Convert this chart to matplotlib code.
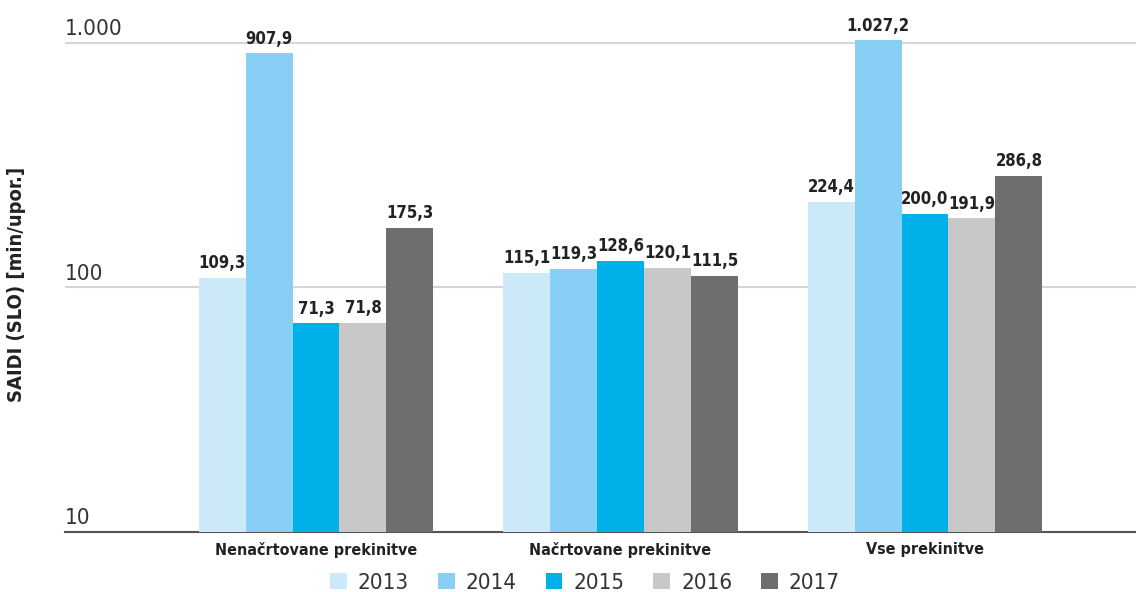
import matplotlib
matplotlib.use("Agg")
import matplotlib.pyplot as plt
from matplotlib import font_manager
from matplotlib.transforms import blended_transform_factory
import numpy as np

# podatki
kategorije = ['Nenačrtovane prekinitve', 'Načrtovane prekinitve', 'Vse prekinitve']
leta = ['2013', '2014', '2015', '2016', '2017']
v2013 = [109.3, 115.1, 224.4]
v2014 = [907.9, 119.3, 1027.2]
v2015 = [71.3, 128.6, 200.0]
v2016 = [71.8, 120.1, 191.9]
v2017 = [175.3, 111.5, 286.8]
barve = ['#cce9f9', '#87cff4', '#00b0e8', '#c8c8c7', '#6e6e6d']
yticks = [10, 100, 1000]
ytick_labels = ['10', '100', '1.000']

# poišči ozko pisavo
ozke = []
for f in font_manager.fontManager.ttflist:
    ime = (f.name + ' ' + f.fname).lower()
    if 'condensed' in ime or 'narrow' in ime or f.stretch in ('condensed', 'semi-condensed', 'extra-condensed', 'ultra-condensed', 400):
        ozke.append(f)
najdeno = ozke[0] if ozke else None
if najdeno is not None:
    plt.rcParams['font.family'] = [najdeno.name, 'DejaVu Sans']
    plt.rcParams['font.stretch'] = 'condensed'
    ozka = True
else:
    plt.rcParams['font.family'] = ['DejaVu Sans']
    ozka = False

def fmt(v):
    s = f'{v:,.1f}'
    return s.replace(',', 'X').replace('.', ',').replace('X', '.')

fig = plt.figure(figsize=(11.36, 5.92), dpi=100)
ax = fig.add_axes([65 / 1136, 60 / 592, 1 - 65 / 1136, 508.4 / 592])

serije = [v2013, v2014, v2015, v2016, v2017]
x = np.arange(len(kategorije))
w = 0.1543
vel = 12 if ozka else 10.5
for i, (vals, c, leto) in enumerate(zip(serije, barve, leta)):
    pos = x + (i - 2) * w
    bars = ax.bar(pos, vals, width=w, color=c, label=leto, zorder=3)
    for b, v in zip(bars, vals):
        ax.annotate(fmt(v), (b.get_x() + b.get_width() / 2, v), xytext=(0, 4),
                    textcoords='offset points', ha='center', va='bottom',
                    fontsize=vel, fontweight='bold', color='#222222', zorder=4)

ax.set_yscale('log')
ax.set_ylim(10, 1200)
ax.set_xlim(0 - 251 / 304.5, 2 + 211 / 304.5)

# mreža
for t in yticks[1:]:
    ax.axhline(t, color='#d6d6d6', lw=1.5, zorder=1)
ax.set_yticks([])
ax.yaxis.set_minor_locator(matplotlib.ticker.NullLocator())
trans = blended_transform_factory(ax.transAxes, ax.transData)
for t, lab in zip(yticks, ytick_labels):
    ax.text(0.0, t * 1.035, lab, transform=trans, ha='left', va='bottom',
            fontsize=16 if ozka else 15, color='#333333')

for s in ['top', 'right', 'left']:
    ax.spines[s].set_visible(False)
ax.spines['bottom'].set_color('#555555')
ax.spines['bottom'].set_linewidth(1.5)

ax.set_xticks(x)
ax.set_xticklabels(kategorije, fontsize=11.5 if ozka else 10.5, fontweight='bold', color='#222222')
ax.tick_params(axis='x', length=0, pad=7)

fig.text(17 / 1136, 0.52, 'SAIDI (SLO) [min/upor.]', rotation=90, ha='center',
         va='center', fontsize=14.5 if ozka else 13, fontweight='bold', color='#222222')

fig.legend(loc='lower center', bbox_to_anchor=(0.515, -0.035), ncol=5, frameon=False,
           fontsize=16 if ozka else 14, handlelength=0.75, handleheight=0.75, handletextpad=0.5,
           columnspacing=1.3, labelcolor='#333333')

plt.savefig('out.png', dpi=100)
